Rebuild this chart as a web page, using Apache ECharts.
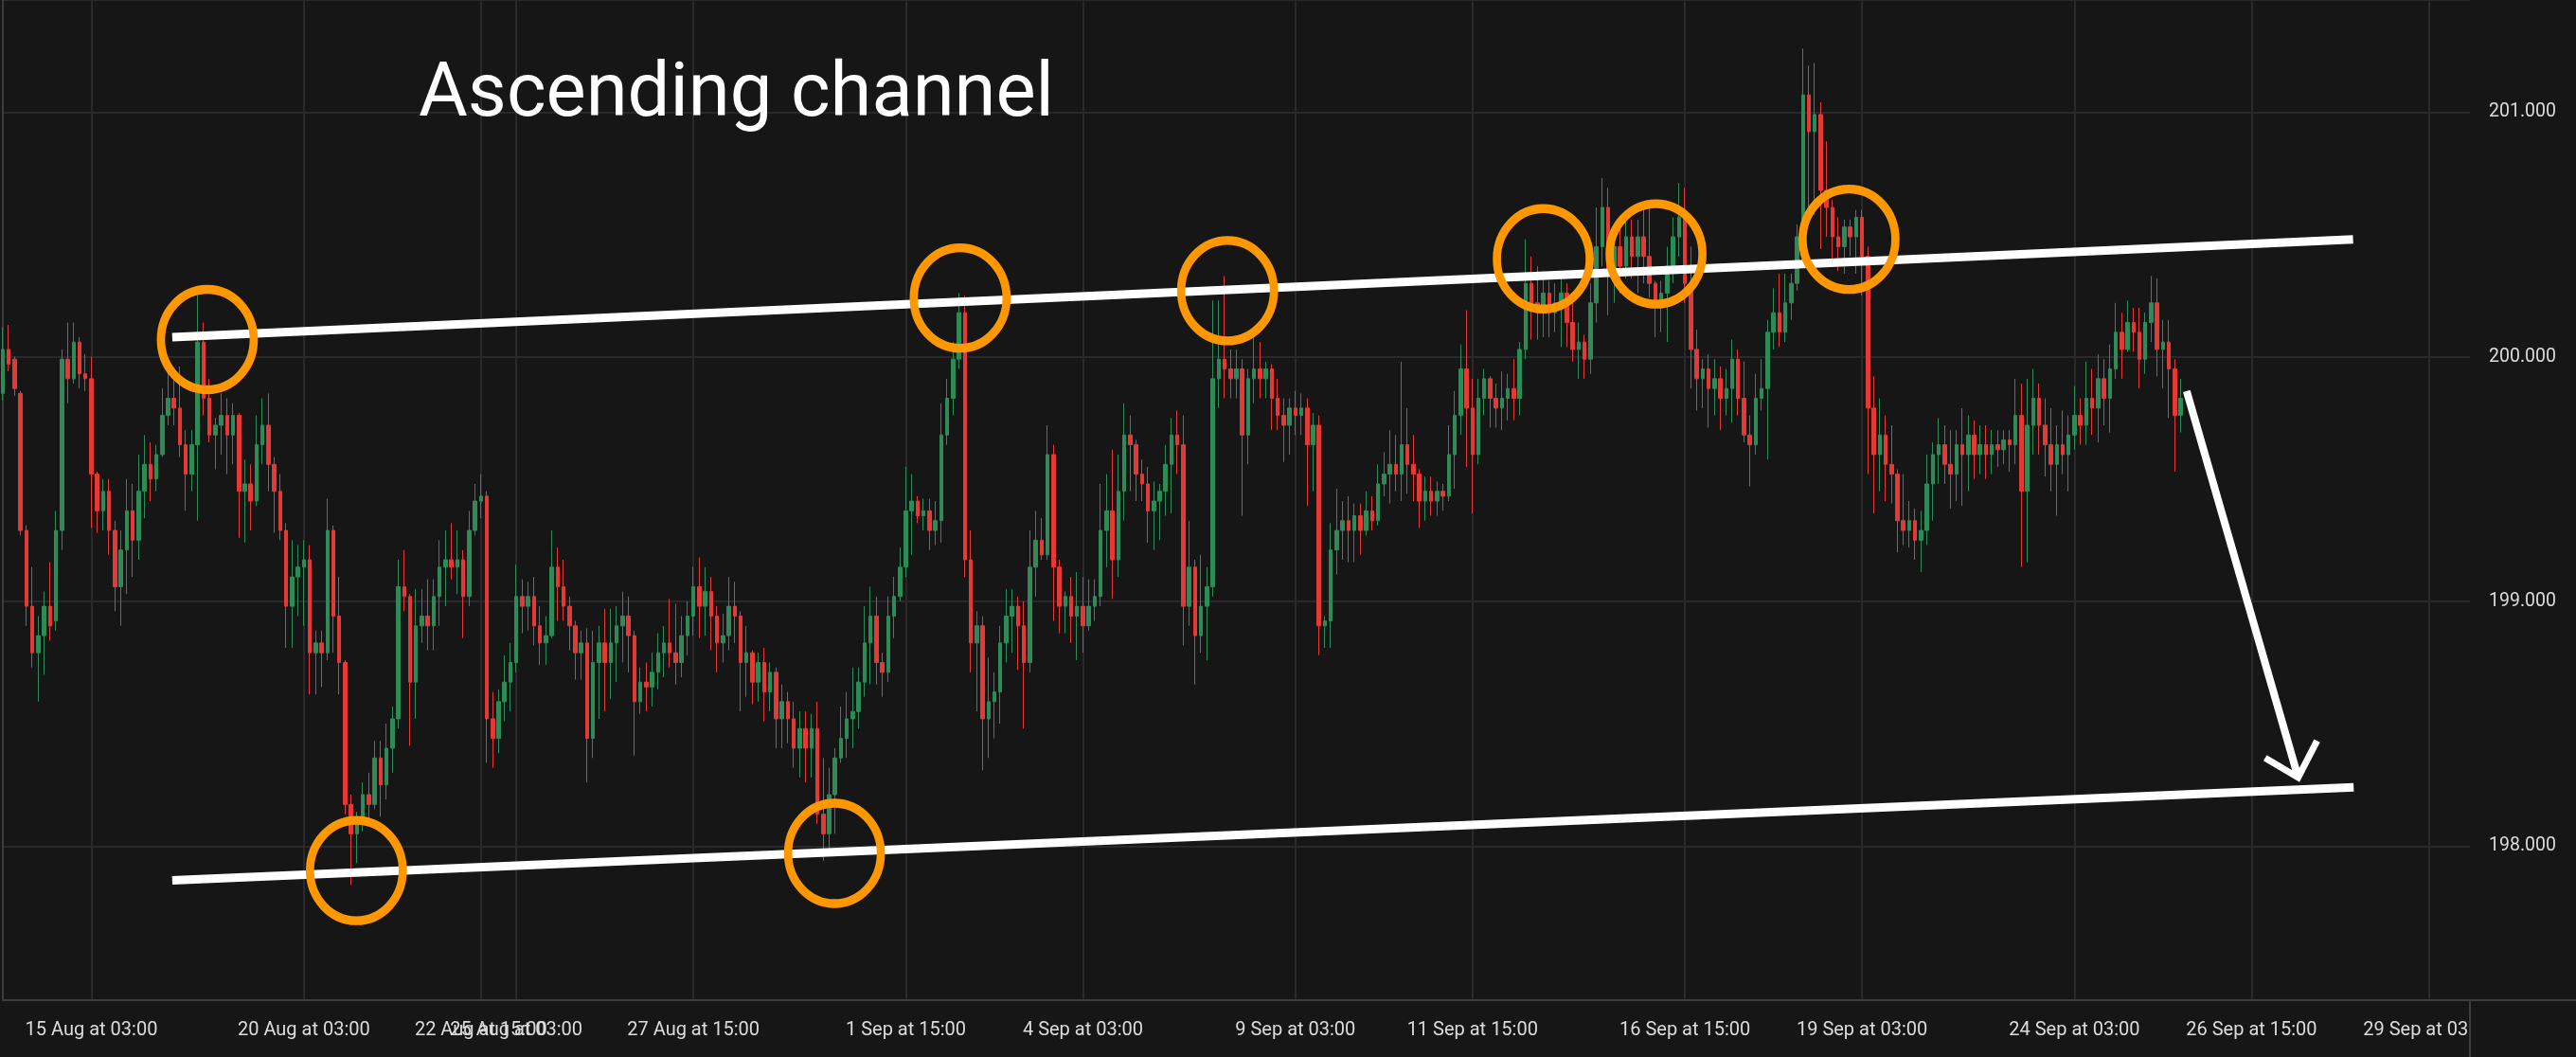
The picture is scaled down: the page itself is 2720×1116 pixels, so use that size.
<!DOCTYPE html>
<html><head><meta charset="utf-8">
<script src="https://cdn.jsdelivr.net/npm/echarts@6/dist/echarts.min.js"></script>
<style>html,body{margin:0;padding:0;background:#161616;}#c{width:2720px;height:1116px;}</style>
</head><body><div id="c"></div>
<script>
// OHLC values, one per 2-hour slot
const opens=[
199.85,200.03,199.99,199.85,199.29,198.98,198.79,198.86,198.98,198.92,
199.29,199.99,199.91,200.06,199.93,199.91,199.52,199.37,199.45,199.29,
199.06,199.21,199.37,199.25,199.45,199.56,199.50,199.60,199.76,199.83,
199.79,199.64,199.52,199.64,200.06,199.83,199.68,199.72,199.76,199.68,
199.76,199.45,199.48,199.41,199.64,199.72,199.56,199.45,199.29,198.98,
199.10,199.14,199.17,198.79,198.83,198.79,199.29,198.94,198.75,198.17,
198.05,198.11,198.21,198.17,198.36,198.25,198.40,198.52,199.06,199.02,
198.67,198.90,198.94,198.90,199.02,199.14,199.17,199.14,199.17,199.02,
199.29,199.41,199.43,198.52,198.44,198.59,198.67,198.75,199.02,198.98,
199.02,198.90,198.83,198.86,199.14,199.06,198.98,198.90,198.79,198.83,
198.44,198.75,198.83,198.75,198.83,198.90,198.94,198.86,198.59,198.67,
198.65,198.71,198.79,198.83,198.79,198.75,198.86,198.94,199.06,198.98,
199.04,198.94,198.83,198.86,198.98,198.94,198.75,198.79,198.67,198.75,
198.63,198.71,198.52,198.59,198.52,198.40,198.48,198.40,198.48,198.13,
198.05,198.21,198.36,198.44,198.52,198.55,198.67,198.83,198.94,198.75,
198.71,198.94,199.02,199.14,199.37,199.41,199.35,199.37,199.29,199.33,
199.68,199.83,199.99,200.18,199.17,198.83,198.90,198.52,198.59,198.63,
198.83,198.94,198.98,198.90,198.75,199.14,199.25,199.19,199.60,199.14,
198.98,199.02,198.94,198.98,198.90,198.98,199.02,199.29,199.37,199.17,
199.45,199.68,199.64,199.52,199.48,199.37,199.41,199.45,199.56,199.68,
199.64,198.98,199.14,198.86,198.98,199.06,199.91,199.99,199.95,199.91,
199.95,199.68,199.91,199.95,199.91,199.95,199.83,199.76,199.72,199.79,
199.76,199.79,199.64,199.72,198.90,198.92,199.21,199.29,199.33,199.29,
199.35,199.29,199.37,199.33,199.48,199.52,199.56,199.52,199.64,199.56,
199.52,199.41,199.45,199.41,199.45,199.43,199.60,199.76,199.95,199.79,
199.60,199.83,199.91,199.83,199.79,199.83,199.87,199.83,200.03,200.30,
200.22,200.18,200.26,200.18,200.22,200.26,200.14,200.03,200.06,199.99,
200.22,200.45,200.61,200.34,200.45,200.37,200.49,200.41,200.49,200.41,
200.30,200.22,200.26,200.37,200.49,200.57,200.30,200.03,199.91,199.95,
199.87,199.91,199.83,199.87,199.99,199.83,199.68,199.64,199.83,199.87,
200.10,200.18,200.10,200.22,200.30,200.49,201.07,200.92,200.99,200.68,
200.61,200.49,200.45,200.53,200.49,200.57,200.41,199.79,199.60,199.68,
199.56,199.52,199.33,199.29,199.33,199.25,199.29,199.48,199.60,199.64,
199.56,199.52,199.64,199.60,199.68,199.60,199.64,199.60,199.64,199.62,
199.66,199.64,199.76,199.45,199.72,199.83,199.72,199.64,199.56,199.64,
199.60,199.68,199.76,199.72,199.83,199.79,199.91,199.83,199.95,200.10,
200.03,200.14,200.10,199.99,200.14,200.22,200.03,200.06,199.95,199.76];
const closes=[
200.03,199.97,199.87,199.29,198.98,198.79,198.86,198.98,198.90,199.29,
199.99,199.91,200.06,199.93,199.91,199.52,199.37,199.45,199.29,199.06,
199.21,199.37,199.25,199.45,199.56,199.50,199.60,199.76,199.83,199.79,
199.64,199.52,199.64,200.06,199.83,199.68,199.72,199.76,199.68,199.76,
199.45,199.48,199.41,199.64,199.72,199.56,199.45,199.29,198.98,199.10,
199.14,199.17,198.79,198.83,198.79,199.29,198.94,198.75,198.17,198.05,
198.11,198.21,198.17,198.36,198.25,198.40,198.52,199.06,199.02,198.67,
198.90,198.94,198.90,199.02,199.14,199.17,199.14,199.17,199.02,199.29,
199.41,199.43,198.52,198.44,198.59,198.67,198.75,199.02,198.98,199.02,
198.90,198.83,198.86,199.14,199.06,198.98,198.90,198.79,198.83,198.44,
198.75,198.83,198.75,198.83,198.90,198.94,198.86,198.59,198.67,198.65,
198.71,198.79,198.83,198.79,198.75,198.86,198.94,199.06,198.98,199.04,
198.94,198.83,198.86,198.98,198.94,198.75,198.79,198.67,198.75,198.63,
198.71,198.52,198.59,198.52,198.40,198.48,198.40,198.48,198.13,198.05,
198.21,198.36,198.44,198.52,198.55,198.67,198.83,198.94,198.75,198.71,
198.94,199.02,199.14,199.37,199.41,199.35,199.37,199.29,199.33,199.68,
199.83,199.99,200.18,199.17,198.83,198.90,198.52,198.59,198.63,198.83,
198.94,198.98,198.90,198.75,199.14,199.25,199.19,199.60,199.14,198.98,
199.02,198.94,198.98,198.90,198.98,199.02,199.29,199.37,199.17,199.45,
199.68,199.64,199.52,199.48,199.37,199.41,199.45,199.56,199.68,199.64,
198.98,199.14,198.86,198.98,199.06,199.91,199.99,199.95,199.91,199.95,
199.68,199.91,199.95,199.91,199.95,199.83,199.76,199.72,199.79,199.76,
199.79,199.64,199.72,198.90,198.92,199.21,199.29,199.33,199.29,199.35,
199.29,199.37,199.33,199.48,199.52,199.56,199.52,199.64,199.56,199.52,
199.41,199.45,199.41,199.45,199.43,199.60,199.76,199.95,199.79,199.60,
199.83,199.91,199.83,199.79,199.83,199.87,199.83,200.03,200.30,200.22,
200.18,200.26,200.18,200.22,200.26,200.14,200.03,200.06,199.99,200.22,
200.45,200.61,200.34,200.45,200.37,200.49,200.41,200.49,200.41,200.30,
200.22,200.26,200.37,200.49,200.57,200.30,200.03,199.91,199.95,199.87,
199.91,199.83,199.87,199.99,199.83,199.68,199.64,199.83,199.87,200.10,
200.18,200.10,200.22,200.30,200.49,201.07,200.92,200.99,200.68,200.61,
200.49,200.45,200.53,200.49,200.57,200.41,199.79,199.60,199.68,199.56,
199.52,199.33,199.29,199.33,199.25,199.29,199.48,199.60,199.64,199.56,
199.52,199.64,199.60,199.68,199.60,199.64,199.60,199.64,199.62,199.66,
199.64,199.76,199.45,199.72,199.83,199.72,199.64,199.56,199.64,199.60,
199.68,199.76,199.72,199.83,199.79,199.91,199.83,199.95,200.10,200.03,
200.14,200.10,199.99,200.14,200.22,200.03,200.06,199.95,199.76,199.83];
const lows=[
199.82,199.94,199.84,199.27,198.90,198.73,198.59,198.70,198.84,198.88,
199.21,199.81,199.89,199.87,199.86,199.30,199.28,199.29,199.19,198.96,
198.90,199.03,199.10,199.17,199.34,199.41,199.45,199.59,199.72,199.72,
199.59,199.37,199.45,199.33,199.76,199.65,199.54,199.60,199.52,199.56,
199.26,199.24,199.29,199.39,199.56,199.45,199.28,199.25,198.81,198.81,
198.94,198.90,198.62,198.62,198.65,198.76,198.79,198.62,198.13,197.84,
197.93,198.06,198.09,198.15,198.12,198.19,198.30,198.48,198.96,198.41,
198.52,198.83,198.80,198.80,198.90,198.98,199.09,199.03,198.85,198.98,
199.27,199.34,198.34,198.32,198.38,198.51,198.55,198.71,198.87,198.88,
198.82,198.74,198.74,198.85,198.92,198.92,198.80,198.68,198.68,198.26,
198.36,198.52,198.55,198.60,198.67,198.75,198.71,198.37,198.54,198.55,
198.57,198.64,198.69,198.73,198.66,198.69,198.78,198.86,198.85,198.86,
198.80,198.71,198.75,198.80,198.83,198.55,198.61,198.58,198.59,198.51,
198.55,198.40,198.40,198.42,198.32,198.28,198.26,198.28,198.09,197.94,
197.97,198.05,198.34,198.36,198.40,198.48,198.61,198.66,198.66,198.61,
198.67,198.85,199.00,199.10,199.19,199.32,199.29,199.21,199.23,199.24,
199.64,199.76,199.95,199.10,198.71,198.55,198.31,198.36,198.44,198.50,
198.75,198.79,198.72,198.48,198.71,199.02,199.17,199.17,198.92,198.87,
198.87,198.83,198.76,198.79,198.88,198.92,198.98,199.14,199.01,199.10,
199.33,199.45,199.41,199.41,199.24,199.21,199.25,199.35,199.36,199.52,
198.82,198.90,198.66,198.79,198.76,199.02,199.79,199.83,199.83,199.83,
199.35,199.56,199.81,199.83,199.83,199.70,199.70,199.57,199.60,199.68,
199.68,199.39,199.45,198.78,198.81,198.81,199.11,199.17,199.16,199.16,
199.19,199.27,199.29,199.31,199.43,199.40,199.45,199.41,199.44,199.41,
199.30,199.33,199.35,199.35,199.37,199.41,199.46,199.68,199.55,199.36,
199.56,199.76,199.71,199.71,199.70,199.74,199.74,199.76,199.99,200.07,
200.07,200.08,200.08,200.10,200.04,200.04,199.98,199.91,199.91,199.93,
200.14,200.37,200.17,200.22,200.26,200.32,200.32,200.26,200.30,200.24,
200.08,200.10,200.06,200.30,200.41,200.22,199.87,199.78,199.79,199.71,
199.76,199.70,199.76,199.73,199.76,199.65,199.47,199.60,199.78,199.58,
200.03,200.04,200.06,200.15,200.27,200.47,200.58,200.58,200.44,200.49,
200.37,200.35,200.34,200.41,200.34,200.25,199.52,199.36,199.45,199.41,
199.40,199.20,199.23,199.22,199.17,199.12,199.23,199.33,199.48,199.48,
199.38,199.41,199.39,199.45,199.50,199.52,199.50,199.52,199.55,199.56,
199.53,199.56,199.14,199.16,199.60,199.60,199.51,199.45,199.35,199.52,
199.45,199.62,199.64,199.64,199.68,199.65,199.72,199.69,199.91,199.91,
200.02,200.02,199.87,199.93,200.06,199.92,199.87,199.75,199.53,199.69];
const highs=[
200.12,200.13,200.00,199.86,199.31,199.14,198.94,199.04,199.16,199.37,
200.03,200.14,200.14,200.08,200.01,200.00,199.53,199.50,199.50,199.33,
199.29,199.50,199.48,199.60,199.68,199.65,199.64,199.87,199.94,199.93,
199.96,199.70,199.70,200.25,200.14,199.91,199.75,199.85,199.83,199.81,
199.77,199.58,199.56,199.76,199.83,199.85,199.59,199.52,199.32,199.25,
199.23,199.25,199.23,198.88,198.88,199.42,199.31,199.10,198.76,198.21,
198.14,198.26,198.30,198.43,198.43,198.50,198.57,199.17,199.21,199.03,
199.05,199.05,199.09,199.09,199.25,199.29,199.32,199.29,199.21,199.37,
199.48,199.52,199.45,198.63,198.64,198.78,198.83,199.15,199.09,199.08,
199.10,198.98,198.94,199.29,199.22,199.17,199.02,198.92,198.88,198.89,
198.88,198.90,198.97,198.97,198.98,199.04,199.02,198.88,198.73,198.75,
198.79,198.87,198.90,199.01,198.99,198.94,199.00,199.14,199.18,199.14,
199.10,198.98,198.95,199.10,199.08,198.96,198.90,198.80,198.79,198.81,
198.75,198.73,198.66,198.63,198.59,198.55,198.55,198.54,198.59,198.36,
198.32,198.40,198.57,198.63,198.73,198.73,198.98,199.06,199.02,198.79,
199.02,199.10,199.22,199.55,199.52,199.43,199.42,199.42,199.41,199.81,
199.91,200.06,200.26,200.25,199.29,198.96,198.94,198.77,198.71,198.90,
199.05,199.05,199.02,199.00,199.29,199.37,199.34,199.72,199.64,199.17,
199.04,199.10,199.12,199.10,199.09,199.09,199.48,199.52,199.62,199.60,
199.81,199.76,199.66,199.58,199.55,199.49,199.48,199.64,199.75,199.78,
199.76,199.33,199.17,199.19,199.14,200.23,200.23,200.33,200.03,200.03,
199.99,199.95,200.11,200.06,199.98,199.97,199.91,199.83,199.83,199.86,
199.85,199.83,199.77,199.76,198.94,199.32,199.46,199.41,199.43,199.40,
199.40,199.45,199.43,199.56,199.61,199.70,199.68,199.98,199.79,199.68,
199.54,199.51,199.51,199.49,199.48,199.72,199.86,200.05,200.19,199.91,
199.91,199.95,199.92,199.89,199.94,199.93,199.99,200.06,200.48,200.41,
200.37,200.35,200.31,200.30,200.32,200.30,200.25,200.14,200.09,200.30,
200.61,200.73,200.69,200.52,200.52,200.59,200.56,200.56,200.61,200.61,
200.31,200.31,200.45,200.57,200.71,200.69,200.45,200.11,199.99,200.01,
199.99,199.96,199.95,200.07,200.03,199.98,199.76,199.93,199.99,200.15,
200.28,200.34,200.34,200.34,200.54,201.26,201.19,201.20,201.04,200.88,
200.64,200.57,200.56,200.56,200.60,200.60,200.45,199.92,199.83,199.76,
199.72,199.54,199.52,199.41,199.38,199.37,199.60,199.65,199.75,199.72,
199.70,199.70,199.79,199.76,199.74,199.72,199.72,199.70,199.70,199.70,
199.70,199.91,199.89,199.91,199.95,199.89,199.83,199.79,199.72,199.78,
199.76,199.88,199.83,199.98,199.95,200.01,199.99,200.05,200.22,200.18,
200.23,200.20,200.20,200.18,200.33,200.32,200.15,200.15,199.99,199.91];

// time-axis slots (2 h each) and the tick labels shown on them
const slotCount = 419;
const tickSlots = [15,51,81,87,117,153,183,219,249,285,315,351,381,411];
const tickLabels = ['15 Aug at 03:00','20 Aug at 03:00','22 Aug at 15:00','25 Aug at 03:00',
  '27 Aug at 15:00','1 Sep at 15:00','4 Sep at 03:00','9 Sep at 03:00','11 Sep at 15:00',
  '16 Sep at 15:00','19 Sep at 03:00','24 Sep at 03:00','26 Sep at 15:00','29 Sep at 03:00'];

// annotations in data space: [slot, price]
const channelUpper = [[28.7,200.08],[398.2,200.48]];
const channelLower = [[28.7,197.86],[398.3,198.24]];
const touchPoints = [[34.65,200.07],[59.9,197.90],[140.9,197.97],[162.2,200.24],
  [207.5,200.27],[261.0,200.40],[280.1,200.42],[312.8,200.48]];
const arrowShaft = [[370.0,199.86],[388.9,198.28]];
const arrowHead = [[383.3,198.36],[388.9,198.28],[392.1,198.43]];

const n = Math.min(opens.length, closes.length, lows.length, highs.length);
const candles = [];
for (let i = 0; i < n; i++) candles.push([opens[i], closes[i], lows[i], highs[i]]);
const slots = [];
for (let i = 0; i < slotCount; i++) slots.push(String(i));

const UP = '#2e8b57', DOWN = '#e53935';
const showTick = (idx) => tickSlots.indexOf(idx) >= 0;

const chart = echarts.init(document.getElementById('c'), null, {renderer: 'canvas'});
chart.setOption({
  backgroundColor: '#161616',
  animation: false,
  title: {
    text: 'Ascending channel', left: 437, top: 57,
    textStyle: {color: '#ffffff', fontSize: 79.5, fontWeight: 400, fontFamily: 'Roboto'}
  },
  grid: {left: 3, right: 112, top: 0, bottom: 60, containLabel: false},
  xAxis: [{
    type: 'category', data: slots, boundaryGap: false,
    axisLine: {show: true, lineStyle: {color: '#3c3c3c', width: 2}},
    axisTick: {show: false},
    axisLabel: {
      interval: (idx) => showTick(idx), margin: 22,
      color: '#dcdcdc', fontSize: 20, fontFamily: 'Roboto',
      formatter: (v, idx) => { const k = tickSlots.indexOf(Number(v)); return k >= 0 ? tickLabels[k] : ''; }
    },
    splitLine: {show: true, interval: (idx) => showTick(idx), lineStyle: {color: '#29292d', width: 2}}
  }, {
    type: 'value', min: 0, max: slotCount - 1, show: false, splitLine: {show: false}
  }],
  yAxis: {
    type: 'value', position: 'right', min: 197.37, max: 201.458, splitNumber: 4, scale: true,
    axisLine: {show: true, lineStyle: {color: '#3c3c3c', width: 2}},
    axisTick: {show: false},
    axisLabel: {margin: 20, color: '#dcdcdc', fontSize: 19.5, fontFamily: 'Roboto',
      showMinLabel: false, showMaxLabel: false,
      formatter: (v) => v.toFixed(3)},
    splitLine: {show: true, lineStyle: {color: '#29292d', width: 2}}
  },
  series: [{
    type: 'candlestick', xAxisIndex: 0, data: candles, barWidth: 4, z: 2,
    itemStyle: {color: UP, color0: DOWN, borderColor: UP, borderColor0: DOWN, borderWidth: 1}
  }, {
    type: 'line', xAxisIndex: 1, data: channelUpper, symbol: 'none', silent: true, z: 5,
    lineStyle: {color: '#ffffff', width: 9, opacity: 1}
  }, {
    type: 'line', xAxisIndex: 1, data: channelLower, symbol: 'none', silent: true, z: 5,
    lineStyle: {color: '#ffffff', width: 9, opacity: 1}
  }, {
    type: 'line', xAxisIndex: 1, data: arrowShaft, symbol: 'none', silent: true, z: 5,
    lineStyle: {color: '#ffffff', width: 8, opacity: 1}
  }, {
    type: 'line', xAxisIndex: 1, data: arrowHead, symbol: 'none', silent: true, z: 5,
    lineStyle: {color: '#ffffff', width: 7, join: 'miter', opacity: 1}
  }, {
    type: 'scatter', xAxisIndex: 1, data: touchPoints, symbol: 'circle', symbolSize: [98, 106],
    silent: true, z: 6,
    itemStyle: {color: 'rgba(0,0,0,0)', borderColor: '#ff9800', borderWidth: 9, opacity: 1}
  }],
  graphic: [
    {type: 'rect', z: 100, shape: {x: 2609, y: 1057, width: 111, height: 59}, style: {fill: '#161616'}},
    {type: 'line', z: 101, shape: {x1: 2608, y1: 1056, x2: 2720, y2: 1056}, style: {stroke: '#3c3c3c', lineWidth: 2}},
    {type: 'line', z: 101, shape: {x1: 2608, y1: 1056, x2: 2608, y2: 1116}, style: {stroke: '#3c3c3c', lineWidth: 2}}
  ]
});
</script></body></html>
